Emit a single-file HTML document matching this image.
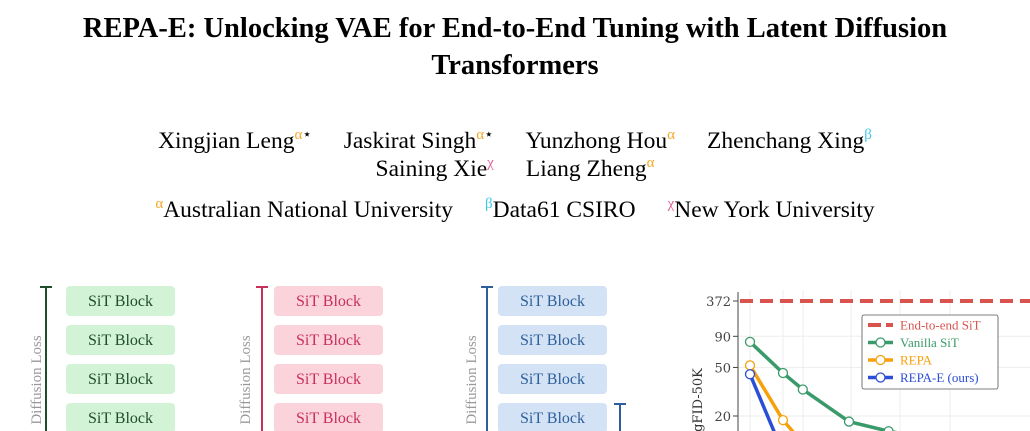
<!DOCTYPE html>
<html><head><meta charset="utf-8"><style>
html,body{margin:0;width:1030px;height:431px;overflow:hidden}
body{background:#fff;position:relative;font-family:"Liberation Serif",serif;color:#000}
.t{position:absolute;left:0;width:1030px;text-align:center;white-space:nowrap}
.title{font-weight:bold;font-size:28.5px}
.au{font-size:23.5px}
.au span.n{margin:0 16px}
sup{font-size:15px;vertical-align:9px;line-height:0}
.a{color:#f5a623}.b{color:#3fc6e6}.c{color:#e0609a}
</style></head><body>
<div class="t title" style="top:13px">REPA-E: Unlocking VAE for End-to-End Tuning with Latent Diffusion</div>
<div class="t title" style="top:50px">Transformers</div>
<div class="t au" style="top:128px"><span class="n">Xingjian Leng<sup class="a">α</sup><sup>⋆</sup></span><span class="n">Jaskirat Singh<sup class="a">α</sup><sup>⋆</sup></span><span class="n">Yunzhong Hou<sup class="a">α</sup></span><span class="n">Zhenchang Xing<sup class="b">β</sup></span></div>
<div class="t au" style="top:156px"><span class="n">Saining Xie<sup class="c">χ</sup></span><span class="n">Liang Zheng<sup class="a">α</sup></span></div>
<div class="t au" style="top:197px"><span class="n"><sup class="a">α</sup>Australian National University</span><span class="n"><sup class="b">β</sup>Data61 CSIRO</span><span class="n"><sup class="c">χ</sup>New York University</span></div>
<svg width="1030" height="431" style="position:absolute;left:0;top:0;display:block">
<g font-family="Liberation Serif" font-size="16">
 <g>
  <line x1="46" y1="287" x2="46" y2="431" stroke="#1f4d2b" stroke-width="2"/><line x1="40" y1="287" x2="52" y2="287" stroke="#1f4d2b" stroke-width="2"/>
  <text transform="translate(41,380) rotate(-90)" text-anchor="middle" fill="#999" font-size="15">Diffusion Loss</text>
 </g>
 <g>
  <line x1="262" y1="287" x2="262" y2="431" stroke="#c8305a" stroke-width="2"/><line x1="256" y1="287" x2="268" y2="287" stroke="#c8305a" stroke-width="2"/>
  <text transform="translate(250,380) rotate(-90)" text-anchor="middle" fill="#999" font-size="15">Diffusion Loss</text>
 </g>
 <g>
  <line x1="487" y1="287" x2="487" y2="431" stroke="#2e5f9a" stroke-width="2"/><line x1="481" y1="287" x2="493" y2="287" stroke="#2e5f9a" stroke-width="2"/>
  <line x1="620" y1="404" x2="620" y2="431" stroke="#2e5f9a" stroke-width="2"/><line x1="614" y1="404" x2="626" y2="404" stroke="#2e5f9a" stroke-width="2"/>
  <text transform="translate(476,380) rotate(-90)" text-anchor="middle" fill="#999" font-size="15">Diffusion Loss</text>
 </g>
 <g id="blocks"></g>
</g>
<g id="chart" font-family="DejaVu Serif, serif"></g>
</svg>
<script>
const NS="http://www.w3.org/2000/svg";
function mk(p,t,a){const e=document.createElementNS(NS,t);for(const k in a)e.setAttribute(k,a[k]);p.appendChild(e);return e;}
const bl=document.getElementById('blocks');
const cols=[[66,'#d3f3d6','#1f4d2b'],[274,'#fbd3da','#c8305a'],[498,'#d3e3f5','#2e5f9a']];
cols.forEach(c=>{for(let i=0;i<4;i++){const y=286+i*39;
 const r=mk(bl,'rect',{x:c[0],y:y,width:109,height:30,rx:4,fill:c[1]});
 
 
 const t=mk(bl,'text',{x:c[0]+54.5,y:y+20,'text-anchor':'middle',fill:c[2]});t.textContent='SiT Block';}});
const xsVals=[20,40,52,80,104,130];
const vanilla=[81,45,33,18,15,13];
const repa=[52,18.5,12,9,8,7];
const repaE=[44,10,7,6,5,4.5];
const e2e=372;
const yTicks=[20,50,90];
const ch=document.getElementById('chart');
const X=v=>750+(v-20)*1.65;
const Y=v=>v>=372?301:416-122*(Math.log10(v)-Math.log10(20));
[750,783,803,851,900,950].forEach(x=>mk(ch,'line',{x1:x,y1:290,x2:x,y2:431,stroke:'#eee'}));
yTicks.forEach(t=>{mk(ch,'line',{x1:738,y1:Y(t),x2:1030,y2:Y(t),stroke:'#eee'});mk(ch,'line',{x1:733,y1:Y(t),x2:738,y2:Y(t),stroke:'#444'});
 const tx=mk(ch,'text',{x:731,y:Y(t)+5,'text-anchor':'end','font-size':13,fill:'#444'});tx.textContent=t;});
mk(ch,'line',{x1:733,y1:301,x2:738,y2:301,stroke:'#444'});
const t3=mk(ch,'text',{x:731,y:306,'text-anchor':'end','font-size':13,fill:'#444'});t3.textContent='372';
mk(ch,'line',{x1:738,y1:292,x2:738,y2:431,stroke:'#444'});
const yl=mk(ch,'text',{transform:'translate(702,400) rotate(-90)','text-anchor':'middle','font-size':13,fill:'#333'});yl.textContent='gFID-50K';


const ref=mk(ch,'line',{x1:740,y1:Y(e2e),x2:1030,y2:Y(e2e),stroke:'#d9534f','stroke-width':4,'stroke-dasharray':'13,7'});


function series(vals,col,name){const g=mk(ch,'g',{});
 mk(g,'polyline',{points:vals.map((v,i)=>X(xsVals[i])+','+Y(v)).join(' '),fill:'none',stroke:col,'stroke-width':3.5});
 vals.forEach((v,i)=>{const c=mk(g,'circle',{cx:X(xsVals[i]),cy:Y(v),r:4.5,fill:'#fff',stroke:col,'stroke-width':1.3});});}
series(vanilla,'#3a9a6a','vanilla-sit-series');
series(repa,'#f7a10a','repa-series');
series(repaE,'#2a4fd6','repa-e-series');
const lg=mk(ch,'g',{});
mk(lg,'rect',{x:862,y:315,width:136,height:74,fill:'#fff',stroke:'#555','stroke-width':0.8,rx:2});
[['End-to-end SiT','#d9534f',1],['Vanilla SiT','#3a9a6a',0],['REPA','#f7a10a',0],['REPA-E (ours)','#2a4fd6',0]].forEach((e,i)=>{const y=325+i*17.5;
 if(e[2])mk(lg,'line',{x1:868,y1:y,x2:893,y2:y,stroke:e[1],'stroke-width':4,'stroke-dasharray':'13,5'});
 else{mk(lg,'line',{x1:868,y1:y,x2:893,y2:y,stroke:e[1],'stroke-width':3.5});mk(lg,'circle',{cx:880.5,cy:y,r:4.5,fill:'#fff',stroke:e[1],'stroke-width':1.3});}
 const t=mk(lg,'text',{x:900,y:y+4.5,'font-size':13,fill:e[1],'font-family':'Liberation Serif'});t.textContent=e[0];});
</script>
</body></html>
